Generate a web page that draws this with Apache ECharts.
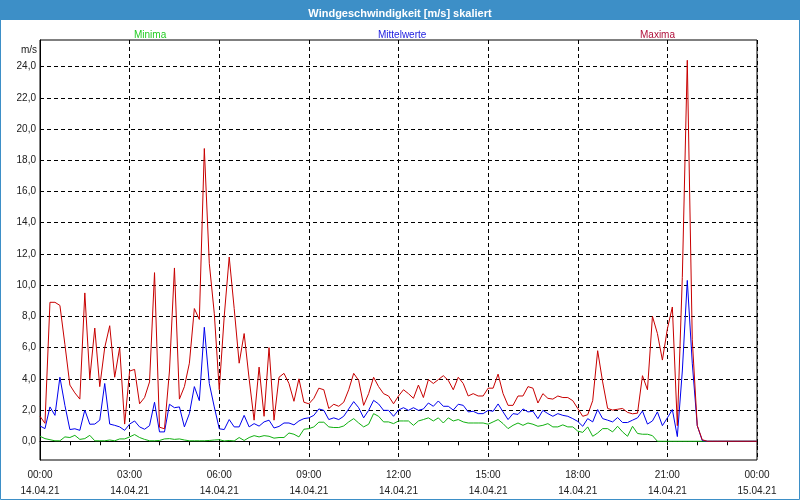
<!DOCTYPE html>
<html>
<head>
<meta charset="utf-8">
<script src="https://cdn.jsdelivr.net/npm/echarts@6/dist/echarts.min.js"></script>
<style>html,body{margin:0;padding:0;background:#fff;}#c{width:800px;height:500px;}</style>
</head>
<body>
<div id="c"></div>
<script>
// Time resolution: one value every 10 minutes, 14.04.21 00:00 -> 15.04.21 00:00
const STEP_MINUTES = 10;
const tickLabels = ['00:00\n14.04.21','03:00\n14.04.21','06:00\n14.04.21','09:00\n14.04.21','12:00\n14.04.21','15:00\n14.04.21','18:00\n14.04.21','21:00\n14.04.21','00:00\n15.04.21'];
const yTicks = [0,2,4,6,8,10,12,14,16,18,20,22,24];

const minima = [
0.32,0.17,0.1,0.03,0.03,0.28,0.24,0.38,0.12,0.17,
0.38,0.03,0.03,0.03,0.08,0.03,0.15,0.15,0.28,0.43,
0.24,0.12,0.03,0.03,0.05,0.15,0.17,0.12,0.15,0.08,
0.03,0.03,0.03,0.03,0.05,0.08,0.1,0.02,0.05,0.02,
0.24,0.05,0.24,0.36,0.28,0.36,0.32,0.2,0.24,0.24,
0.53,0.45,0.28,0.77,0.81,0.92,1.22,1.22,0.92,0.88,
0.88,0.98,1.24,1.45,1.17,0.92,1.09,1.77,1.6,1.24,
1.24,1.13,1.3,1.3,1.3,1.02,1.3,1.39,1.5,1.3,
1.5,1.17,1.5,1.3,1.39,1.24,1.17,1.17,1.17,1.17,
1.09,1.24,1.39,1.13,0.81,1.02,1.17,1.02,1.17,1.09,
0.96,1.02,1.13,0.92,0.92,1.05,0.92,0.92,0.65,0.57,
0.92,0.32,0.53,0.81,0.81,0.6,0.96,0.6,0.32,0.96,
0.5,0.45,0.45,0.36,0,0,0,0,0,0,
0,0,0,0,0,0,0,0,0,0,
0,0,0,0,0
];

const mittelwerte = [
0.98,0.81,2.2,1.66,4.1,2.3,0.75,0.8,0.7,2.0,
1.09,1.1,1.35,3.7,1.1,1.02,0.92,0.7,1.1,1.3,
0.92,0.77,1.0,2.5,0.6,0.6,2.37,2.15,2.2,0.92,
1.77,3.5,2.6,7.3,3.7,2.2,0.8,0.75,1.39,0.92,
0.92,1.66,0.92,1.13,0.97,1.24,1.35,0.85,0.95,1.17,
1.17,1.05,1.3,1.45,1.5,1.66,2.07,1.98,1.39,1.5,
1.39,1.6,2.07,2.54,2.15,1.5,1.98,2.62,2.39,1.98,
1.98,1.6,2.0,2.15,1.98,2.15,1.98,2.07,2.45,2.24,
2.58,2.24,2.24,2.0,2.37,2.3,1.88,1.92,1.77,1.77,
1.98,1.92,2.39,1.88,1.39,1.77,1.72,2.07,1.88,1.92,
1.45,1.98,1.77,1.6,1.77,1.66,1.6,1.45,1.27,0.96,
1.45,1.24,2.03,1.45,1.35,1.24,1.52,1.2,1.2,1.35,
1.5,1.94,1.1,1.3,1.88,1.0,1.5,2.03,0.3,4.5,
10.3,5.0,1.0,0.05,0,0,0,0,0,0,
0,0,0,0,0
];

const maxima = [
1.6,1.15,8.9,8.9,8.7,6.2,3.6,3.1,2.7,9.5,
4.0,7.25,3.5,6.0,7.4,4.1,6.0,1.1,4.5,4.6,
2.4,2.8,3.8,10.8,0.9,0.8,4.5,11.1,2.7,3.5,
5.0,8.5,7.8,18.75,11.4,8.2,3.3,8.0,11.8,8.5,
5.0,6.9,4.0,1.35,4.75,1.6,6.0,1.35,4.1,4.35,
3.7,2.56,4.0,2.5,2.4,2.75,3.4,3.3,2.1,2.37,
2.24,2.5,3.3,4.35,3.9,2.3,3.05,4.1,3.5,3.05,
2.9,2.4,2.9,3.3,3.05,2.75,3.6,2.8,3.95,3.7,
3.95,4.2,3.9,3.3,4.1,3.7,2.9,3.05,2.9,2.9,
3.4,3.4,4.3,3.05,2.3,2.3,2.9,2.9,3.5,3.4,
2.45,3.05,2.75,2.7,2.9,2.8,2.8,2.6,2.1,1.6,
1.7,2.6,5.8,3.8,2.1,2.0,2.05,2.1,1.85,1.76,
1.8,4.2,3.3,8.0,6.9,5.2,7.2,8.6,1.0,10.5,
24.4,6.5,1.0,0.1,0,0,0,0,0,0,
0,0,0,0,0
];

function toPairs(arr) {
  return arr.map((v, i) => [i * STEP_MINUTES / 60, v]);
}

const FONT = 'Liberation Sans';
const chart = echarts.init(document.getElementById('c'), null, {renderer: 'canvas'});
chart.setOption({
  animation: false,
  backgroundColor: '#ffffff',
  textStyle: {fontFamily: FONT},
  title: {
    text: 'Windgeschwindigkeit [m/s] skaliert',
    left: 'center', top: 3,
    textStyle: {color: '#ffffff', fontSize: 11, fontWeight: 'bold', fontFamily: FONT},
    z: 10
  },
  graphic: [
    {type: 'rect', z: -10, silent: true, shape: {x: 0, y: 0, width: 800, height: 20}, style: {fill: '#3d8fc7'}},
    {type: 'rect', z: -10, silent: true, shape: {x: 0.5, y: 0.5, width: 799, height: 499}, style: {fill: 'none', stroke: '#3d8fc7', lineWidth: 1}}
  ],
  legend: [
    {data: [{name: 'Minima', textStyle: {color: '#22cc22'}}], left: 124, top: 25, icon: 'none', itemWidth: 0, itemHeight: 0, selectedMode: false, textStyle: {fontSize: 10, fontFamily: FONT}},
    {data: [{name: 'Mittelwerte', textStyle: {color: '#2020e0'}}], left: 368, top: 25, icon: 'none', itemWidth: 0, itemHeight: 0, selectedMode: false, textStyle: {fontSize: 10, fontFamily: FONT}},
    {data: [{name: 'Maxima', textStyle: {color: '#b0103a'}}], left: 630, top: 25, icon: 'none', itemWidth: 0, itemHeight: 0, selectedMode: false, textStyle: {fontSize: 10, fontFamily: FONT}}
  ],
  grid: {left: 40, right: 43, top: 40, bottom: 40, show: true, borderColor: '#000', borderWidth: 1, backgroundColor: 'transparent'},
  xAxis: {
    type: 'value', min: 0, max: 24, interval: 3,
    axisLine: {show: true, lineStyle: {color: '#000', width: 1}},
    axisTick: {show: true, length: 4, lineStyle: {color: '#000'}},
    minorTick: {show: true, splitNumber: 3, length: 4, lineStyle: {color: '#000'}},
    axisLabel: {
      formatter: v => tickLabels[Math.round(v / 3)],
      fontSize: 10, color: '#202020', lineHeight: 16, margin: 7, fontFamily: FONT
    },
    splitLine: {show: true, lineStyle: {color: '#000', type: [4, 3], width: 1}}
  },
  yAxis: {
    type: 'value', min: -1.2, max: 25.7,
    name: 'm/s', nameLocation: 'end', nameGap: -5,
    nameTextStyle: {align: 'right', verticalAlign: 'top', padding: [0, 3, 0, 0], fontSize: 10, color: '#202020', fontFamily: FONT},
    axisLine: {show: true, lineStyle: {color: '#000', width: 1}},
    axisTick: {show: false, customValues: yTicks},
    axisLabel: {customValues: yTicks, formatter: v => v.toFixed(1).replace('.', ','), fontSize: 10, color: '#202020', margin: 4, fontFamily: FONT},
    splitLine: {show: true, lineStyle: {color: '#000', type: [4, 3], width: 1}}
  },
  series: [
    {name: 'Minima', type: 'line', data: toPairs(minima), showSymbol: false, lineStyle: {color: '#10b010', width: 1}, itemStyle: {color: '#10b010'}},
    {name: 'Mittelwerte', type: 'line', data: toPairs(mittelwerte), showSymbol: false, lineStyle: {color: '#0000ee', width: 1}, itemStyle: {color: '#0000ee'}},
    {name: 'Maxima', type: 'line', data: toPairs(maxima), showSymbol: false, lineStyle: {color: '#c80000', width: 1}, itemStyle: {color: '#c80000'}}
  ]
});
</script>
</body>
</html>
